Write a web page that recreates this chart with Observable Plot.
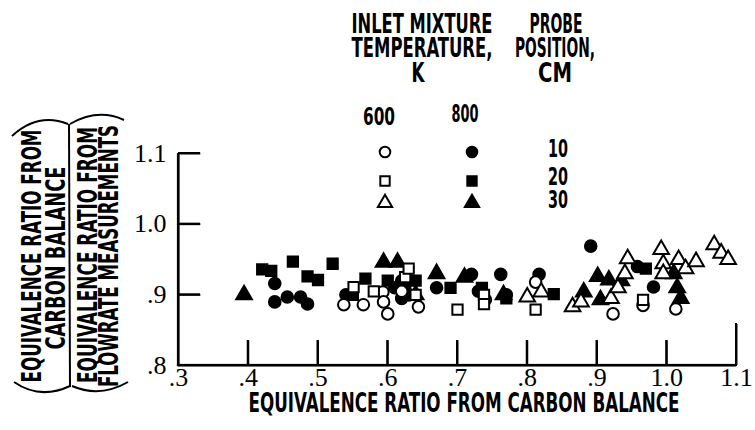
<!DOCTYPE html>
<html>
<head>
<meta charset="utf-8">
<script src="https://cdn.jsdelivr.net/npm/d3@7"></script>
<script src="https://cdn.jsdelivr.net/npm/@observablehq/plot@0.6"></script>
<style>
  html, body { margin: 0; padding: 0; background: #fff; }
  #chart { width: 755px; height: 430px; overflow: hidden; background: #fff; }
</style>
</head>
<body>
<div id="chart"></div>
<script>
// ---- tick values and labels ----
const xTicks = [0.3, 0.4, 0.5, 0.6, 0.7, 0.8, 0.9, 1.0, 1.1];
const xTickLabels = [".3", ".4", ".5", ".6", ".7", ".8", ".9", "1.0", "1.1"];
const yTicks = [0.8, 0.9, 1.0, 1.1];
const yTickLabels = [".8", ".9", "1.0", "1.1"];

// ---- series: [equivalence ratio from carbon balance, ratio from flowrate] ----
// 800 K (filled symbols)
const t800_p10 = [[0.438,0.916],[0.438,0.890],[0.456,0.897],[0.475,0.897],[0.485,0.887],[0.540,0.900],
  [0.610,0.910],[0.620,0.920],[0.630,0.900],[0.620,0.895],[0.670,0.910],[0.720,0.929],[0.730,0.905],
  [0.762,0.929],[0.770,0.900],[0.817,0.929],[0.891,0.969],[0.958,0.940],[0.981,0.911]];
const t800_p20 = [[0.420,0.936],[0.433,0.934],[0.464,0.947],[0.485,0.926],[0.500,0.921],[0.521,0.944],
  [0.550,0.900],[0.568,0.923],[0.600,0.920],[0.625,0.910],[0.640,0.920],[0.690,0.910],[0.735,0.910],
  [0.770,0.895],[0.838,0.901],[0.970,0.937]];
const t800_p30 = [[0.394,0.900],[0.594,0.946],[0.614,0.946],[0.630,0.920],[0.640,0.900],[0.670,0.930],
  [0.710,0.925],[0.766,0.900],[0.881,0.904],[0.901,0.926],[0.905,0.893],[0.917,0.921],[0.935,0.920],
  [1.010,0.930],[1.015,0.910],[1.020,0.895]];
// 600 K (open symbols)
const t600_p10 = [[0.537,0.886],[0.565,0.886],[0.593,0.904],[0.594,0.890],[0.600,0.873],[0.620,0.905],
  [0.644,0.883],[0.740,0.893],[0.812,0.918],[0.923,0.873],[0.966,0.885],[1.013,0.880]];
const t600_p20 = [[0.551,0.911],[0.580,0.905],[0.625,0.925],[0.630,0.937],[0.640,0.900],[0.700,0.879],
  [0.738,0.900],[0.738,0.887],[0.812,0.879],[0.966,0.893]];
const t600_p30 = [[0.800,0.897],[0.820,0.904],[0.865,0.883],[0.877,0.890],[0.920,0.895],[0.930,0.910],
  [0.940,0.930],[0.944,0.951],[0.992,0.964],[0.995,0.944],[0.995,0.930],[1.017,0.950],[1.027,0.937],
  [1.042,0.947],[1.068,0.971],[1.078,0.959],[1.088,0.950]];

const W = 755, H = 430, mL = 178, mR = 19, mT = 153, mB = 65;
const xDomain = [xTicks[0], xTicks[xTicks.length - 1]];
const yDomain = [yTicks[0], yTicks[yTicks.length - 1]];
const R = 5.8;
const labelFont = "'DejaVu Sans Condensed', 'Liberation Sans Narrow', 'DejaVu Sans', sans-serif";
const tickFont = "'Liberation Serif', 'DejaVu Serif', serif";

function dots(data, symbol, filled) {
  return Plot.dot(data, {
    x: d => d[0], y: d => d[1], symbol: () => symbol, r: R,
    fill: filled ? "black" : "white", stroke: "black", strokeWidth: 2
  });
}

const svg = Plot.plot({
  width: W, height: H,
  marginLeft: mL, marginRight: mR, marginTop: mT, marginBottom: mB,
  x: { domain: xDomain },
  y: { domain: yDomain },
  marks: [
    Plot.ruleY(yTicks.slice(0, 1), { y: d => d, stroke: "black", strokeWidth: 2.2 }),
    Plot.ruleX(xTicks.slice(0, 1), { x: d => d, stroke: "black", strokeWidth: 2.2 }),
    Plot.ruleX(xTicks.slice(1, -1), { x: d => d, y1: () => 0.8, y2: () => 0.835, stroke: "black", strokeWidth: 2 }),
    Plot.ruleX(xTicks.slice(-1), { x: d => d, y1: () => 0.8, y2: () => 0.858, stroke: "black", strokeWidth: 2 }),
    Plot.ruleY(yTicks.slice(1), { y: d => d, x1: () => 0.3, x2: () => 0.332, stroke: "black", strokeWidth: 2 }),
    Plot.axisX(xTicks, { tickSize: 0, tickPadding: 2, fontSize: 26, fontFamily: tickFont,
      tickFormat: d => xTickLabels[xTicks.indexOf(d)], label: null }),
    Plot.axisY(yTicks, { tickSize: 0, tickPadding: 12, fontSize: 26, fontFamily: tickFont,
      tickFormat: d => yTickLabels[yTicks.indexOf(d)], label: null }),
    dots(t800_p10, "circle", true),
    dots(t800_p20, "square", true),
    dots(t800_p30, "triangle", true),
    dots(t600_p10, "circle", false),
    dots(t600_p20, "square", false),
    dots(t600_p30, "triangle", false)
  ]
});

document.getElementById("chart").appendChild(svg);

const NS = "http://www.w3.org/2000/svg";
const xpx = v => mL + (v - xDomain[0]) / (xDomain[1] - xDomain[0]) * (W - mL - mR);
const ypx = v => (H - mB) - (v - yDomain[0]) / (yDomain[1] - yDomain[0]) * (H - mT - mB);
function bar(x, y, w, h) {
  const r = document.createElementNS(NS, "rect");
  r.setAttribute("x", x); r.setAttribute("y", y);
  r.setAttribute("width", w); r.setAttribute("height", h);
  r.setAttribute("fill", "black");
  svg.appendChild(r);
}

const s = d3.select(svg);

function label(txt, x, y, len, size = 27, rot = 0) {
  const t = s.append("text")
    .attr("transform", `translate(${x},${y}) rotate(${rot})`)
    .attr("text-anchor", "middle")
    .attr("font-family", labelFont)
    .attr("font-weight", "bold")
    .attr("font-size", size)
    .attr("fill", "black")
    .text(txt);
  if (len) t.attr("textLength", len).attr("lengthAdjust", "spacingAndGlyphs");
  return t;
}

label("INLET MIXTURE", 422, 33, 141);
label("TEMPERATURE,", 422, 57, 141);
label("K", 418, 82, 13);
label("PROBE", 556, 33, 53);
label("POSITION,", 555, 57, 80);
label("CM", 555, 82, 34);
label("600", 379, 125, 32, 25);
label("800", 465, 122, 27, 25);
label("10", 558, 157, 20, 25);
label("20", 558, 185, 20, 25);
label("30", 558, 208, 20, 25);

const legendRows = [
  { type: d3.symbolCircle, y: 152 },
  { type: d3.symbolSquare, y: 181 },
  { type: d3.symbolTriangle, y: 203 }
];
legendRows.forEach(row => {
  const p = d3.symbol().type(row.type).size(5.3 * 5.3 * Math.PI)();
  s.append("path").attr("d", p).attr("transform", `translate(385,${row.y})`)
    .attr("fill", "white").attr("stroke", "black").attr("stroke-width", 2);
  s.append("path").attr("d", p).attr("transform", `translate(472,${row.y})`)
    .attr("fill", "black").attr("stroke", "black").attr("stroke-width", 2);
});

label("EQUIVALENCE RATIO FROM CARBON BALANCE", 464, 412, 431, 26);

label("EQUIVALENCE RATIO FROM", 41, 256, 253, 26, -90);
label("CARBON BALANCE", 65, 258, 183, 26, -90);
label("EQUIVALENCE RATIO FROM", 97, 255, 256, 26, -90);
label("FLOWRATE MEASUREMENTS", 118, 256, 262, 26, -90);

const br = s.append("g").attr("fill", "none").attr("stroke", "black").attr("stroke-width", 2);
br.append("path").attr("d", "M12,136 Q38,112 68,124");
br.append("path").attr("d", "M14,382 Q40,400 70,386");
br.append("path").attr("d", "M70,124 Q98,108 124,120");
br.append("path").attr("d", "M72,386 Q100,398 128,382");
br.append("path").attr("d", "M69,124 L70,387");

// axis frame and inward ticks as filled bars (same mapping as the Plot scales)
const ax0 = xpx(xDomain[0]), ax1 = xpx(xDomain[1]);
const ay0 = ypx(yDomain[0]), ay1 = ypx(yDomain[1]);
bar(ax0 - 1.1, ay1, 2.2, ay0 - ay1 + 1.1);
bar(ax0 - 1.1, ay0 - 1.1, ax1 - ax0 + 2.1, 2.2);
xTicks.slice(1).forEach((v, i, a) => {
  const len = i === a.length - 1 ? 42 : 25;
  bar(xpx(v) - 1, ay0 - len, 2, len);
});
yTicks.slice(1).forEach(v => {
  bar(ax0, ypx(v) - 1, 22, 2);
});
</script>
</body>
</html>
